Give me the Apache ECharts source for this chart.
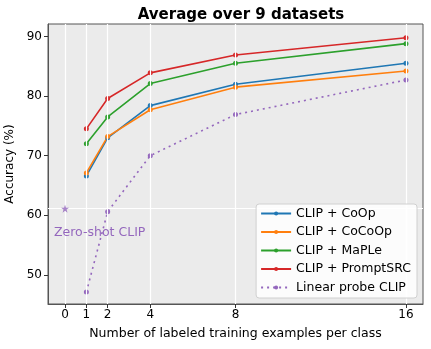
<!DOCTYPE html>
<html>
<head>
<meta charset="utf-8">
<script src="https://cdn.jsdelivr.net/npm/echarts@6/dist/echarts.min.js"></script>
<style>
html, body { margin: 0; padding: 0; background: #fff; }
#chart { width: 431px; height: 349px; }
</style>
</head>
<body>
<div id="chart"></div>
<script>
// shots per class
var shots = [1, 2, 4, 8, 16]
var xTicks = [0, 1, 2, 4, 8, 16]
var yTicks = [50, 60, 70, 80, 90]

var coop = [66.6, 73.0, 78.4, 82.0, 85.5]
var cocoop = [67.1, 73.2, 77.7, 81.5, 84.2]
var maple = [72.0, 76.5, 82.1, 85.5, 88.8]
var promptsrc = [74.5, 79.6, 83.9, 86.9, 89.8]
var linearProbe = [47.1, 60.6, 70.0, 76.9, 82.7]
var zeroShot = 61.1

var seriesNames = ['CLIP + CoOp', 'CLIP + CoCoOp', 'CLIP + MaPLe', 'CLIP + PromptSRC', 'Linear probe CLIP']
var colors = ['#1f77b4', '#ff7f0e', '#2ca02c', '#d62728', '#9467bd']

var starPath = 'path://M50,0 L61.8,36.2 L100,36.2 L69.1,58.6 L80.9,95.1 L50,72.7 L19.1,95.1 L30.9,58.6 L0,36.2 L38.2,36.2 Z'

function pairs (xs, ys) {
  return xs.map(function (x, i) { return [x, ys[i]] })
}

function lineSeries (name, vals, color, dotted) {
  return {
    name: name,
    type: 'line',
    data: pairs(shots, vals),
    symbol: 'circle',
    symbolSize: 5,
    itemStyle: { color: color },
    lineStyle: { color: color, width: 1.6, type: dotted ? [2, 4] : 'solid' },
    z: 3
  }
}

var series = [
  {
    // white guides: vertical at the x ticks, horizontal at the zero-shot level
    name: 'guides',
    type: 'scatter',
    data: [[0, zeroShot]],
    symbolSize: 0,
    silent: true,
    z: 1,
    markLine: {
      silent: true,
      symbol: ['none', 'none'],
      label: { show: false },
      animation: false,
      lineStyle: { color: '#ffffff', width: 1.2, type: 'solid', opacity: 1 },
      emphasis: { disabled: true },
      data: xTicks.map(function (v) { return { xAxis: v } }).concat([{ yAxis: zeroShot }])
    }
  },
  lineSeries(seriesNames[0], coop, colors[0]),
  lineSeries(seriesNames[1], cocoop, colors[1]),
  lineSeries(seriesNames[2], maple, colors[2]),
  lineSeries(seriesNames[3], promptsrc, colors[3]),
  lineSeries(seriesNames[4], linearProbe, colors[4], true),
  {
    name: 'Zero-shot CLIP',
    type: 'scatter',
    data: [[0, zeroShot]],
    symbol: starPath,
    symbolSize: 8,
    itemStyle: { color: colors[4] },
    z: 5
  }
]

var myChart = echarts.init(document.getElementById('chart'))
myChart.setOption({
  animation: false,
  title: {
    text: 'Average over 9 datasets',
    left: 236,
    textAlign: 'center',
    top: 3,
    textStyle: { fontFamily: 'DejaVu Sans', fontSize: 15, fontWeight: 'bold', color: '#000' }
  },
  grid: {
    left: 48, right: 8, top: 24, bottom: 45,
    outerBoundsMode: 'none',
    containLabel: false,
    show: true,
    backgroundColor: '#ebebeb',
    borderColor: '#555',
    borderWidth: 1
  },
  legend: {
    data: seriesNames,
    orient: 'vertical',
    right: 14,
    bottom: 51,
    itemWidth: 30,
    itemHeight: 5,
    itemGap: 5.5,
    padding: [3, 6, 4, 4],
    backgroundColor: 'rgba(255,255,255,0.85)',
    borderColor: '#d0d0d0',
    borderWidth: 1,
    borderRadius: 3,
    z: 10,
    textStyle: { fontFamily: 'DejaVu Sans', fontSize: 12.5, color: '#000' }
  },
  xAxis: {
    type: 'value',
    min: -0.8,
    max: 16.8,
    name: 'Number of labeled training examples per class',
    nameLocation: 'middle',
    nameGap: 23,
    nameTextStyle: { fontFamily: 'DejaVu Sans', fontSize: 12.5, color: '#000' },
    axisLine: { show: true, onZero: false, lineStyle: { color: '#555' } },
    axisTick: { show: true, inside: false, customValues: xTicks, length: 4, lineStyle: { color: '#333' } },
    axisLabel: { customValues: xTicks, margin: 5, fontFamily: 'DejaVu Sans', fontSize: 12, color: '#000' },
    splitLine: { show: false }
  },
  yAxis: {
    type: 'value',
    min: 45.1,
    max: 92.1,
    name: 'Accuracy (%)',
    nameLocation: 'middle',
    nameGap: 32,
    nameTextStyle: { fontFamily: 'DejaVu Sans', fontSize: 12, color: '#000' },
    axisLine: { show: true, onZero: false, lineStyle: { color: '#555' } },
    axisTick: { show: true, inside: false, customValues: yTicks, length: 4, lineStyle: { color: '#333' } },
    axisLabel: { customValues: yTicks, margin: 6, fontFamily: 'DejaVu Sans', fontSize: 12, color: '#000' },
    splitLine: { show: false }
  },
  graphic: [{
    type: 'text',
    left: 54,
    top: 226,
    style: { text: 'Zero-shot CLIP', fill: colors[4], font: '12.5px "DejaVu Sans"' },
    z: 10
  }],
  series: series
})
</script>
</body>
</html>
